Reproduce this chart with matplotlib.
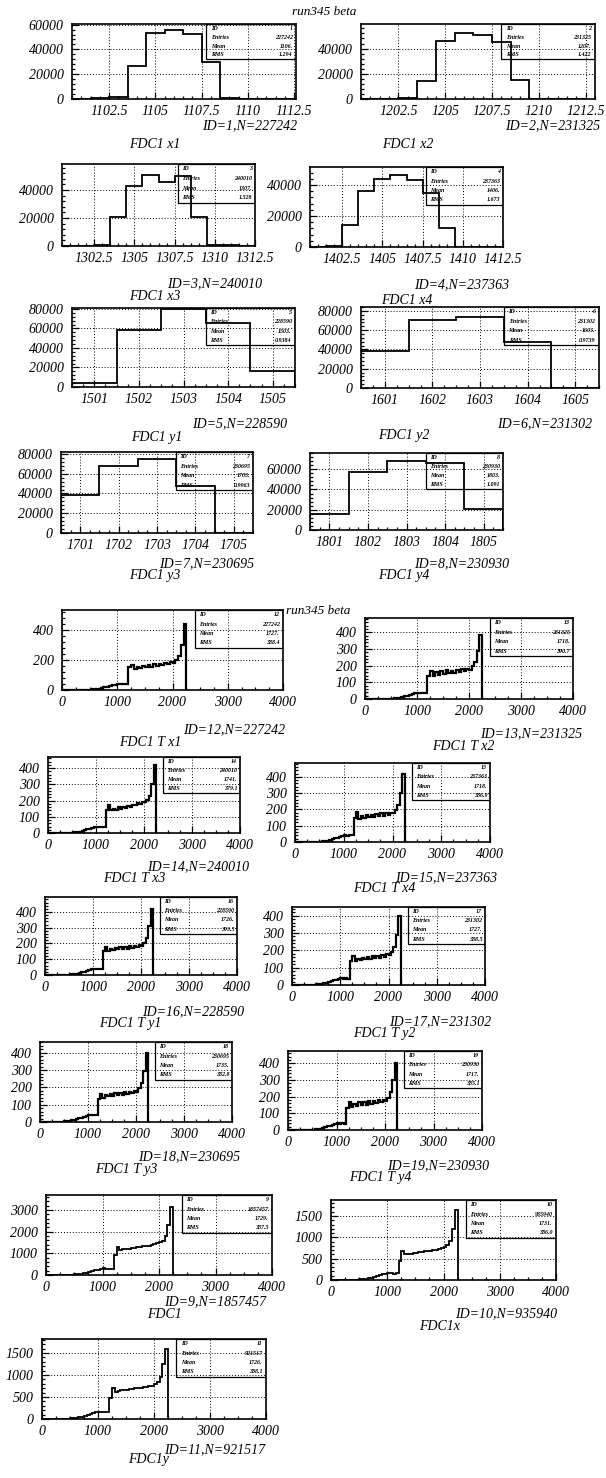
import numpy as np
import matplotlib.pyplot as plt
from matplotlib.ticker import MultipleLocator, AutoMinorLocator, FuncFormatter
from matplotlib.patches import Rectangle

plt.rcParams['font.family'] = ['Liberation Serif', 'DejaVu Serif']
plt.rcParams['font.style'] = 'italic'

W, H = 606, 1478

# ---- position histograms (1 unit bins, starting at the left edge)
pos_names = ['FDC1 x1', 'FDC1 x2', 'FDC1 x3', 'FDC1 x4',
             'FDC1 y1', 'FDC1 y2', 'FDC1 y3', 'FDC1 y4']
pos_ids = [1, 2, 3, 4, 5, 6, 7, 8]
pos_entries = [227242, 231325, 240010, 237363, 228590, 231302, 230695, 230930]
pos_mean = ['1106.', '1207.', '1307.', '1406.', '1503.', '1603.', '1703.', '1803.']
pos_rms = ['1.294', '1.422', '1.528', '1.673', '0.9384', '0.9739', '0.9963', '1.091']
pos_start = [1100.5, 1200.5, 1300.5, 1400.5, 1500.5, 1600.5, 1700.5, 1800.5]
pos_counts = [
    [300, 800, 1500, 27000, 53000, 55500, 52500, 30000, 600, 200, 0, 0],
    [0, 200, 400, 14000, 46000, 52000, 51000, 45000, 15000, 300, 0, 0],
    [0, 300, 800, 21000, 43000, 51000, 45500, 50000, 21000, 1000, 500, 0],
    [200, 500, 14000, 36000, 44000, 46500, 43000, 35000, 12500, 300, 0, 0],
    [4000, 58000, 80000, 66000, 16000],
    [38000, 71000, 74000, 48000, 0],
    [38000, 68000, 75000, 48000, 0],
    [16000, 57000, 68000, 66000, 21000],
]

# ---- drift time histograms (50 unit bins from 0 to 2250)
t_bin = 50
t_names = ['FDC1 T x1', 'FDC1 T x2', 'FDC1 T x3', 'FDC1 T x4',
           'FDC1 T y1', 'FDC1 T y2', 'FDC1 T y3', 'FDC1 T y4',
           'FDC1', 'FDC1x', 'FDC1y']
t_ids = [12, 13, 14, 15, 16, 17, 18, 19, 9, 10, 11]
t_entries = [227242, 231325, 240010, 237363, 228590, 231302, 230695, 230930,
             1857457, 935940, 921517]
t_mean = ['1727.', '1718.', '1741.', '1718.', '1726.', '1727.', '1735.', '1717.',
          '1729.', '1731.', '1726.']
t_rms = ['388.4', '390.7', '379.1', '386.9', '393.5', '388.5', '382.8', '385.1',
         '387.5', '386.0', '388.1']
t_counts = [
    [0, 0, 0, 0, 0, 0, 1, 1, 2, 2, 3, 4, 6, 9, 13, 17, 22, 26, 31, 36, 42, 37, 40, 38,
     150, 165, 138, 155, 145, 162, 150, 168, 155, 172, 160, 176, 165, 180, 170, 186, 180, 200, 228, 300, 440],
    [0, 0, 0, 0, 0, 0, 0, 1, 1, 2, 2, 3, 5, 8, 12, 15, 20, 26, 30, 34, 38, 33, 36, 34,
     140, 170, 135, 160, 145, 165, 150, 172, 158, 168, 155, 175, 162, 178, 165, 182, 175, 195, 222, 290, 385],
    [0, 0, 0, 0, 0, 0, 1, 1, 2, 2, 3, 4, 6, 9, 13, 17, 22, 26, 30, 36, 40, 35, 38, 36,
     140, 175, 140, 150, 145, 158, 150, 162, 155, 168, 162, 175, 170, 185, 178, 192, 190, 205, 230, 300, 420],
    [0, 0, 0, 0, 0, 0, 1, 1, 1, 2, 3, 4, 6, 9, 13, 17, 22, 27, 32, 38, 44, 38, 42, 40,
     150, 185, 140, 160, 148, 165, 152, 168, 155, 170, 160, 175, 162, 178, 168, 180, 175, 195, 225, 300, 420],
    [0, 0, 0, 0, 0, 0, 1, 1, 2, 2, 3, 4, 6, 9, 13, 17, 21, 25, 30, 35, 40, 36, 38, 36,
     150, 180, 155, 168, 160, 172, 162, 176, 165, 178, 168, 182, 172, 185, 176, 190, 185, 205, 235, 310, 420],
    [0, 0, 0, 0, 0, 0, 1, 1, 2, 2, 3, 4, 6, 9, 13, 17, 22, 26, 30, 36, 40, 35, 38, 36,
     140, 165, 138, 152, 145, 158, 148, 162, 150, 165, 155, 170, 158, 172, 162, 176, 172, 190, 220, 290, 400],
    [0, 0, 0, 0, 0, 0, 1, 1, 2, 2, 3, 4, 6, 9, 13, 17, 21, 25, 30, 36, 42, 38, 40, 38,
     135, 160, 140, 155, 148, 160, 150, 165, 155, 168, 158, 172, 162, 175, 165, 178, 175, 195, 225, 295, 400],
    [0, 0, 0, 0, 0, 0, 0, 1, 1, 2, 2, 3, 5, 8, 12, 16, 21, 26, 30, 36, 42, 36, 40, 38,
     130, 165, 140, 158, 145, 165, 150, 170, 152, 172, 158, 175, 160, 178, 165, 180, 172, 192, 225, 300, 400],
    [0, 0, 0, 0, 0, 0, 5, 8, 12, 18, 25, 35, 50, 75, 105, 140, 180, 215, 250, 285, 310, 295, 285, 290,
     900, 1300, 1150, 1180, 1200, 1220, 1240, 1260, 1280, 1300, 1320, 1340, 1360, 1390, 1420, 1460, 1500, 1580, 1800, 2300, 3150],
    [0, 0, 0, 0, 0, 0, 2, 4, 6, 9, 13, 18, 25, 38, 55, 75, 95, 115, 135, 150, 165, 155, 150, 155,
     450, 680, 600, 610, 620, 630, 640, 650, 660, 670, 680, 690, 700, 710, 720, 740, 770, 820, 920, 1200, 1650],
    [0, 0, 0, 0, 0, 0, 2, 4, 6, 9, 13, 18, 25, 38, 55, 72, 90, 110, 130, 150, 170, 160, 155, 160,
     480, 700, 620, 640, 650, 660, 670, 680, 690, 700, 705, 715, 720, 730, 740, 760, 790, 850, 960, 1250, 1600],
]
t_noisy = [True] * 8 + [False] * 3

# ---- layout (pixel boxes: left, top, right, bottom), limits, label spots
pos_box = [(72, 24, 296, 99), (361, 24, 595, 99), (62, 164, 255, 246), (310, 167, 503, 247),
           (72, 308, 295, 387), (361, 307, 599, 388), (61, 452, 253, 533), (310, 453, 503, 530)]
pos_xhi = [1112.6, 1213.0, 1312.5, 1412.5, 1505.5, 1605.5, 1705.5, 1805.5]
pos_ytop = [60500, 59500, 58600, 51600, 81000, 84000, 82000, 76000]
pos_idxy = [(250, 126), (553, 126), (215, 284), (462, 285), (240, 424), (545, 424), (207, 564), (462, 564)]
pos_nmxy = [(155, 145), (408, 145), (155, 297), (407, 300), (157, 437), (404, 435), (155, 576), (404, 576)]

t_box = [(62, 610, 283, 690), (365, 618, 573, 699), (48, 757, 240, 833), (295, 763, 490, 842),
         (45, 897, 237, 975), (292, 907, 485, 985), (40, 1042, 232, 1122), (288, 1051, 482, 1130),
         (46, 1195, 272, 1275), (331, 1200, 556, 1280), (42, 1339, 266, 1419)]
t_ytop = [533, 485, 469, 485, 495, 450, 462, 473, 3690, 1875, 1818]
t_ymaj = [200, 100, 100, 100, 100, 100, 100, 100, 1000, 500, 500]
t_idxy = [(234, 730), (531, 734), (198, 867), (446, 878), (193, 1012), (440, 1022),
          (189, 1157), (438, 1166), (215, 1302), (506, 1314), (215, 1450)]
t_nmxy = [(150, 743), (463, 746), (134, 879), (384, 889), (130, 1024), (384, 1034),
          (126, 1169), (380, 1178), (164, 1314), (440, 1326), (149, 1459)]

fig = plt.figure(figsize=(W / 100, H / 100), dpi=100)
fmt = FuncFormatter(lambda v, p: f'{v:g}')


def place(box):
    l, t, r, b = box
    return fig.add_axes([l / W, 1 - b / H, (r - l) / W, (b - t) / H])


def ftext(xy, s, size=10):
    fig.text(xy[0] / W, 1 - xy[1] / H, s, ha='center', va='center', fontsize=size)


def style(ax, xmaj, xminor, ymaj):
    ax.xaxis.set_major_locator(MultipleLocator(xmaj))
    ax.xaxis.set_minor_locator(AutoMinorLocator(xminor))
    ax.yaxis.set_major_locator(MultipleLocator(ymaj))
    ax.yaxis.set_minor_locator(AutoMinorLocator(5))
    ax.xaxis.set_major_formatter(fmt)
    ax.yaxis.set_major_formatter(fmt)
    ax.tick_params(which='both', direction='in', top=False, right=False, width=0.9)
    ax.tick_params(which='major', length=5, labelsize=10)
    ax.tick_params(which='minor', length=2.5)
    ax.tick_params(axis='x', pad=4)
    ax.tick_params(axis='y', pad=6)
    ax.grid(True, which='major', color='black', linestyle=(0, (1, 2)), linewidth=0.7)
    for s in ax.spines.values():
        s.set_linewidth(1.2)


def stats(ax, ident, entries, mean, rms, y0):
    ax.add_patch(Rectangle((0.6, y0), 0.4, 1 - y0, transform=ax.transAxes,
                           fill=False, edgecolor='black', linewidth=0.9, zorder=5))
    rows = [('ID', str(ident)), ('Entries', str(entries)), ('Mean', mean), ('RMS', rms)]
    step = (1 - y0) / 4
    for i, (k, v) in enumerate(rows):
        yy = 1 - step * (i + 0.5)
        ax.text(0.62, yy, k, transform=ax.transAxes, fontsize=4.3, va='center', ha='left',
                fontweight='bold')
        ax.text(0.985, yy, v, transform=ax.transAxes, fontsize=4.3, va='center', ha='right',
                fontweight='bold')


ftext((324, 12), 'run345 beta', 9.5)
ftext((318, 611), 'run345 beta', 9.5)

for i in range(8):
    ax = place(pos_box[i])
    edges = pos_start[i] + np.arange(len(pos_counts[i]) + 1)
    ax.stairs(pos_counts[i], edges, color='black', linewidth=1.3)
    ax.set_xlim(pos_start[i], pos_xhi[i])
    ax.set_ylim(0, pos_ytop[i])
    if i < 4:
        style(ax, 2.5, 5, 20000)
    else:
        style(ax, 1, 4, 20000)
    stats(ax, pos_ids[i], pos_entries[i], pos_mean[i], pos_rms[i], 0.53)
    ftext(pos_idxy[i], f'ID={pos_ids[i]},N={pos_entries[i]}')
    ftext(pos_nmxy[i], pos_names[i])

for i in range(11):
    ax = place(t_box[i])
    edges = np.arange(len(t_counts[i]) + 1) * t_bin
    ax.stairs(t_counts[i], edges, color='black', linewidth=1.6 if t_noisy[i] else 1.3)
    ax.set_xlim(0, 4000)
    ax.set_ylim(0, t_ytop[i])
    style(ax, 1000, 4, t_ymaj[i])
    stats(ax, t_ids[i], t_entries[i], t_mean[i], t_rms[i], 0.53)
    ftext(t_idxy[i], f'ID={t_ids[i]},N={t_entries[i]}')
    ftext(t_nmxy[i], t_names[i])

fig.savefig('out.png', dpi=100)
